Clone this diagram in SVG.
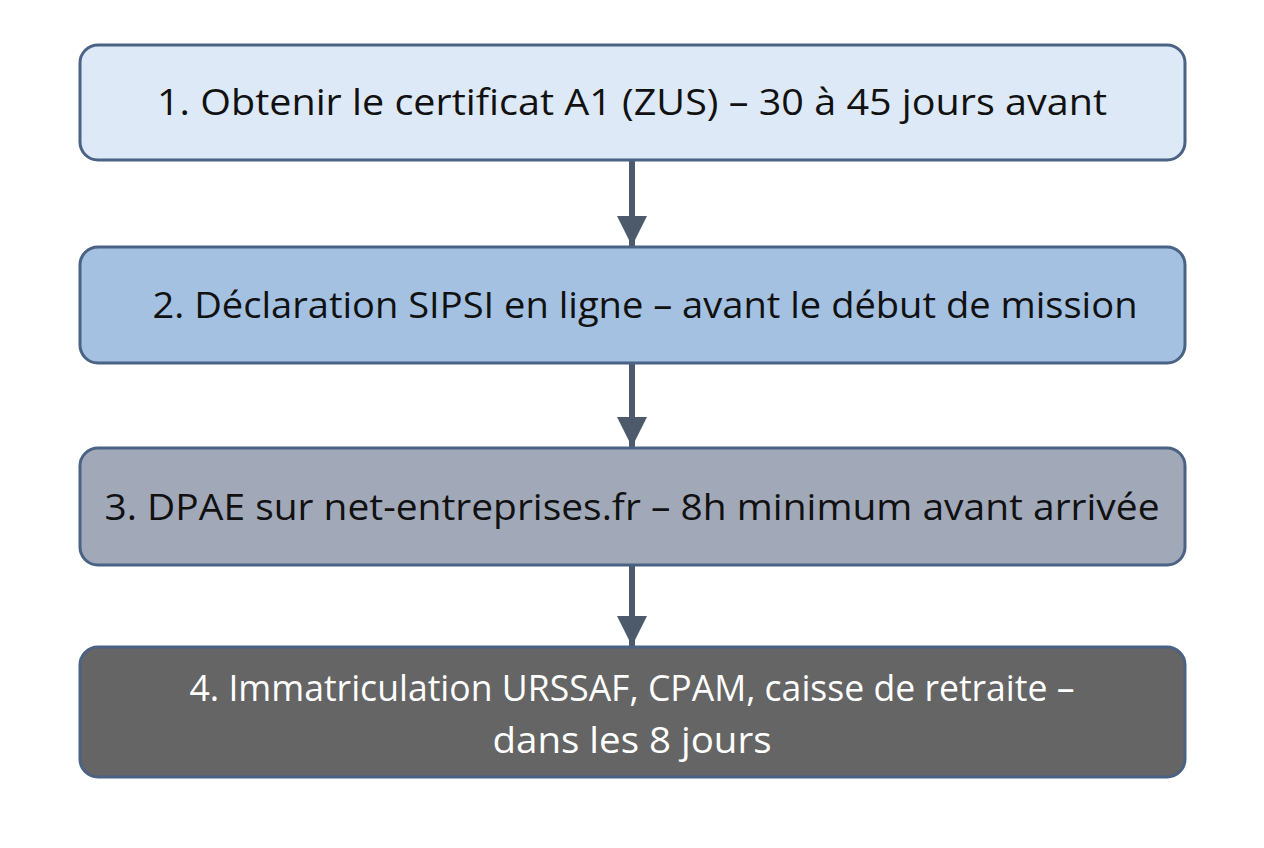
<svg xmlns="http://www.w3.org/2000/svg" width="1264" height="848" viewBox="0 0 1264 848">
<style>
.b{stroke:#4a6283;stroke-width:3}
.t{font-family:"Open Sans","Liberation Sans",sans-serif;font-size:37px;text-anchor:middle}
.c{stroke:#4d5a6b;stroke-width:6;fill:none}
</style>
<defs><marker id="a" markerWidth="10" markerHeight="10" refX="5" refY="5" orient="auto" markerUnits="userSpaceOnUse" viewBox="0 0 10 10"><path d="M0,0L10,5L0,10z" fill="#4d5a6b"/></marker>
<marker id="m" markerWidth="32" markerHeight="30" refX="30" refY="15" orient="auto" markerUnits="userSpaceOnUse"><path d="M0,0L30,15L0,30z" fill="#4d5a6b"/></marker></defs>
<rect width="1264" height="848" fill="#fff"/>
<g id="connectors">
<path class="c" d="M632,161V246" marker-end="url(#m)"/>
<path class="c" d="M632,364V447" marker-end="url(#m)"/>
<path class="c" d="M632,566V646" marker-end="url(#m)"/>
</g>
<g id="n1"><rect class="b" x="80" y="45" width="1105" height="115" rx="18" fill="#dde9f6"/><text class="t" x="632" y="115" fill="#111" textLength="950" lengthAdjust="spacingAndGlyphs">1. Obtenir le certificat A1 (ZUS) – 30 à 45 jours avant</text></g>
<g id="n2"><rect class="b" x="80" y="247" width="1105" height="116" rx="18" fill="#a4c1e2"/><text class="t" x="645" y="318" fill="#111" textLength="985" lengthAdjust="spacingAndGlyphs">2. Déclaration SIPSI en ligne – avant le début de mission</text></g>
<g id="n3"><rect class="b" x="80" y="448" width="1105" height="117" rx="18" fill="#a1a9b9"/><text class="t" x="632" y="520" fill="#111" textLength="1055" lengthAdjust="spacingAndGlyphs">3. DPAE sur net-entreprises.fr – 8h minimum avant arrivée</text></g>
<g id="n4"><rect class="b" x="80" y="647" width="1105" height="130" rx="18" fill="#656565" stroke="#555"/><text class="t" x="632" y="701" fill="#fff" textLength="885" lengthAdjust="spacingAndGlyphs">4. Immatriculation URSSAF, CPAM, caisse de retraite –</text><text class="t" x="632" y="753" fill="#fff" textLength="279" lengthAdjust="spacingAndGlyphs">dans les 8 jours</text></g>
</svg>
